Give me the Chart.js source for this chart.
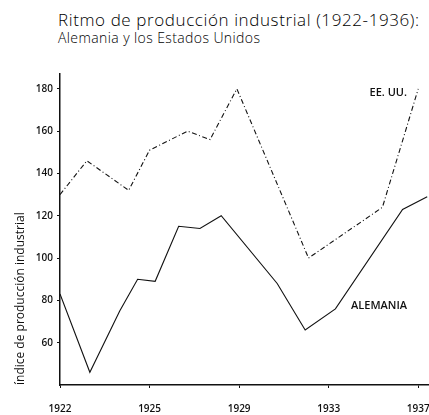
<!DOCTYPE html>
<html lang="es">
<head>
<meta charset="utf-8">
<title>Ritmo de producción industrial</title>
<script src="https://cdn.jsdelivr.net/npm/chart.js@4/dist/chart.umd.min.js"></script>
<style>
  body { margin: 0; background: #fff; }
  .wrap { position: relative; width: 429px; height: 415px; overflow: hidden; }
  .wrap canvas { position: absolute; left: 0; top: 0; }
  .title, .subtitle {
    position: absolute; left: 58px; margin: 0; white-space: nowrap;
    font-family: 'Open Sans', sans-serif; color: #000; line-height: 1;
  }
  .title { top: 11px; font-size: 17px; font-weight: 300; letter-spacing: 0.6px; }
  .subtitle { top: 31px; font-size: 14px; font-weight: 300; letter-spacing: 0.4px; }
</style>
</head>
<body>
<div class="wrap">
  <div class="title">Ritmo de producción industrial (1922-1936):</div>
  <div class="subtitle">Alemania y los Estados Unidos</div>
  <canvas id="chart" width="429" height="415"></canvas>
</div>
<script>
/* ── Data ── */
const tickYears = [1922, 1925, 1929, 1933, 1937];
const tickLabels = ['1922', '1925', '1929', '1933', '1937'];
const yTicks = [60, 80, 100, 120, 140, 160, 180];

const usYears = [1922, 1922.9, 1924.3, 1925, 1926.7, 1927.7, 1928.9, 1932.1, 1935.4, 1937];
const usValues = [130, 146, 132, 151, 160, 156, 180, 100, 124, 180];

const deYears = [1922, 1923, 1924, 1924.6, 1925.25, 1926.3, 1927.25, 1928.2, 1930.7, 1931.95, 1933.3, 1936.3, 1937.4];
const deValues = [83, 46, 75, 90, 89, 115, 114, 120, 88, 66, 76, 123, 129];

const noteTexts = ['EE. UU.', 'ALEMANIA'];
const noteYears = [1936.5, 1936.5];
const noteValues = [178, 77.5];

/* ── Ticks are evenly spaced although the years are not ── */
function yearToPos(year) {
  for (let i = 0; i < tickYears.length - 1; i++) {
    const a = tickYears[i], b = tickYears[i + 1];
    if (year <= b || i === tickYears.length - 2) return i + (year - a) / (b - a);
  }
  return 0;
}

const toPoints = (years, values) => years.map((yr, i) => ({ x: yearToPos(yr), y: values[i] }));

const labelFont = { family: "'Open Sans', sans-serif", size: 10, weight: '600' };

/* ── Labels next to the lines ── */
const notesPlugin = {
  id: 'notes',
  afterDatasetsDraw(chart) {
    const { ctx, scales: { x, y } } = chart;
    ctx.save();
    ctx.font = "600 11px 'Open Sans', sans-serif";
    ctx.fillStyle = '#111';
    ctx.textAlign = 'right';
    ctx.textBaseline = 'middle';
    noteTexts.forEach((t, i) => {
      ctx.fillText(t, x.getPixelForValue(yearToPos(noteYears[i])), y.getPixelForValue(noteValues[i]));
    });
    ctx.restore();
  }
};

new Chart(document.getElementById('chart'), {
  type: 'line',
  data: {
    datasets: [
      {
        label: 'EE. UU.',
        data: toPoints(usYears, usValues),
        borderColor: '#111',
        borderWidth: 1.1,
        borderDash: [5, 2.5, 1, 2.5],
        pointRadius: 0,
        tension: 0,
      },
      {
        label: 'Alemania',
        data: toPoints(deYears, deValues),
        borderColor: '#111',
        borderWidth: 1.1,
        pointRadius: 0,
        tension: 0,
      }
    ]
  },
  options: {
    responsive: false,
    animation: false,
    layout: { padding: { top: 74, left: 0, right: 0, bottom: 0 } },
    plugins: { legend: { display: false }, tooltip: { enabled: false } },
    scales: {
      x: {
        type: 'linear',
        min: 0,
        max: 4.12,
        afterBuildTicks: s => { s.ticks = tickLabels.map((_, i) => ({ value: i })); },
        afterFit: s => { s.height = 30; s.paddingLeft = 0; s.paddingRight = 0; },
        grid: { drawOnChartArea: false, color: '#111', tickLength: 3, lineWidth: 1 },
        border: { display: true, color: '#111', width: 1.5 },
        ticks: {
          autoSkip: false,
          maxRotation: 0,
          padding: 15,
          color: '#111',
          font: labelFont,
          callback: v => tickLabels[v] ?? ''
        }
      },
      y: {
        min: 40,
        max: 187,
        afterBuildTicks: s => { s.ticks = yTicks.map(v => ({ value: v })); },
        afterFit: s => { s.width = 60; },
        grid: { drawOnChartArea: false, color: '#111', tickLength: 3, lineWidth: 1 },
        border: { display: true, color: '#111', width: 1.5 },
        ticks: { padding: 4, color: '#111', font: labelFont },
        title: {
          display: true,
          text: 'índice de producción industrial',
          align: 'start',
          color: '#111',
          padding: { top: 13, bottom: 0 },
          font: { family: "'Open Sans', sans-serif", size: 12, weight: '400' }
        }
      }
    }
  },
  plugins: [notesPlugin]
});
</script>
</body>
</html>
